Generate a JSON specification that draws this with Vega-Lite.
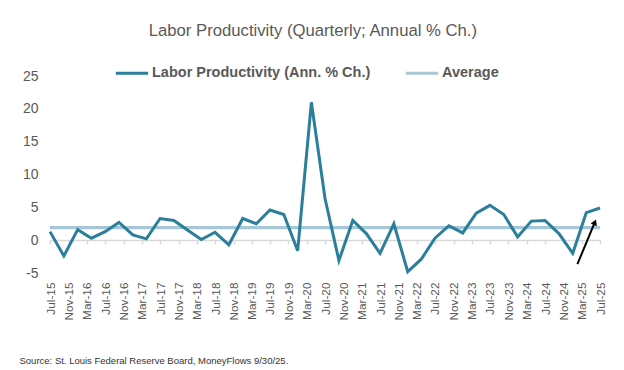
{
  "$schema": "https://vega.github.io/schema/vega-lite/v6.json",
  "width": 550,
  "height": 197,
  "autosize": {"type": "none"},
  "padding": {"left": 50, "top": 76, "right": 24, "bottom": 97},
  "background": "white",
  "config": {
    "font": "Liberation Sans",
    "view": {"stroke": null},
    "legend": {
      "orient": "none",
      "legendX": 64,
      "legendY": -21,
      "direction": "horizontal",
      "symbolType": "stroke",
      "symbolStrokeWidth": 3,
      "symbolSize": 1050,
      "labelFontSize": 14.5,
      "labelFontWeight": "bold",
      "labelColor": "#595959",
      "labelLimit": 400,
      "columnPadding": 28,
      "labelOffset": 2,
      "title": null
    }
  },
  "title": {
    "text": "Labor Productivity (Quarterly; Annual % Ch.)",
    "fontSize": 16.7,
    "fontWeight": "normal",
    "color": "#595959",
    "anchor": "middle",
    "frame": "bounds",
    "offset": 15
  },
  "datasets": {
    "prod": [
      {"date": "2015-07-01", "value": 1.3, "series": "Labor Productivity (Ann. % Ch.)"},
      {"date": "2015-10-01", "value": -2.4, "series": "Labor Productivity (Ann. % Ch.)"},
      {"date": "2016-01-01", "value": 1.6, "series": "Labor Productivity (Ann. % Ch.)"},
      {"date": "2016-04-01", "value": 0.3, "series": "Labor Productivity (Ann. % Ch.)"},
      {"date": "2016-07-01", "value": 1.3, "series": "Labor Productivity (Ann. % Ch.)"},
      {"date": "2016-10-01", "value": 2.7, "series": "Labor Productivity (Ann. % Ch.)"},
      {"date": "2017-01-01", "value": 0.8, "series": "Labor Productivity (Ann. % Ch.)"},
      {"date": "2017-04-01", "value": 0.2, "series": "Labor Productivity (Ann. % Ch.)"},
      {"date": "2017-07-01", "value": 3.3, "series": "Labor Productivity (Ann. % Ch.)"},
      {"date": "2017-10-01", "value": 3.0, "series": "Labor Productivity (Ann. % Ch.)"},
      {"date": "2018-01-01", "value": 1.5, "series": "Labor Productivity (Ann. % Ch.)"},
      {"date": "2018-04-01", "value": 0.1, "series": "Labor Productivity (Ann. % Ch.)"},
      {"date": "2018-07-01", "value": 1.2, "series": "Labor Productivity (Ann. % Ch.)"},
      {"date": "2018-10-01", "value": -0.7, "series": "Labor Productivity (Ann. % Ch.)"},
      {"date": "2019-01-01", "value": 3.3, "series": "Labor Productivity (Ann. % Ch.)"},
      {"date": "2019-04-01", "value": 2.5, "series": "Labor Productivity (Ann. % Ch.)"},
      {"date": "2019-07-01", "value": 4.6, "series": "Labor Productivity (Ann. % Ch.)"},
      {"date": "2019-10-01", "value": 3.9, "series": "Labor Productivity (Ann. % Ch.)"},
      {"date": "2020-01-01", "value": -1.6, "series": "Labor Productivity (Ann. % Ch.)"},
      {"date": "2020-04-01", "value": 21.0, "series": "Labor Productivity (Ann. % Ch.)"},
      {"date": "2020-07-01", "value": 6.3, "series": "Labor Productivity (Ann. % Ch.)"},
      {"date": "2020-10-01", "value": -3.1, "series": "Labor Productivity (Ann. % Ch.)"},
      {"date": "2021-01-01", "value": 3.0, "series": "Labor Productivity (Ann. % Ch.)"},
      {"date": "2021-04-01", "value": 1.0, "series": "Labor Productivity (Ann. % Ch.)"},
      {"date": "2021-07-01", "value": -2.0, "series": "Labor Productivity (Ann. % Ch.)"},
      {"date": "2021-10-01", "value": 2.5, "series": "Labor Productivity (Ann. % Ch.)"},
      {"date": "2022-01-01", "value": -4.8, "series": "Labor Productivity (Ann. % Ch.)"},
      {"date": "2022-04-01", "value": -2.9, "series": "Labor Productivity (Ann. % Ch.)"},
      {"date": "2022-07-01", "value": 0.3, "series": "Labor Productivity (Ann. % Ch.)"},
      {"date": "2022-10-01", "value": 2.2, "series": "Labor Productivity (Ann. % Ch.)"},
      {"date": "2023-01-01", "value": 1.1, "series": "Labor Productivity (Ann. % Ch.)"},
      {"date": "2023-04-01", "value": 4.1, "series": "Labor Productivity (Ann. % Ch.)"},
      {"date": "2023-07-01", "value": 5.3, "series": "Labor Productivity (Ann. % Ch.)"},
      {"date": "2023-10-01", "value": 3.9, "series": "Labor Productivity (Ann. % Ch.)"},
      {"date": "2024-01-01", "value": 0.5, "series": "Labor Productivity (Ann. % Ch.)"},
      {"date": "2024-04-01", "value": 2.9, "series": "Labor Productivity (Ann. % Ch.)"},
      {"date": "2024-07-01", "value": 3.0, "series": "Labor Productivity (Ann. % Ch.)"},
      {"date": "2024-10-01", "value": 1.0, "series": "Labor Productivity (Ann. % Ch.)"},
      {"date": "2025-01-01", "value": -2.0, "series": "Labor Productivity (Ann. % Ch.)"},
      {"date": "2025-04-01", "value": 4.2, "series": "Labor Productivity (Ann. % Ch.)"},
      {"date": "2025-07-01", "value": 4.9, "series": "Labor Productivity (Ann. % Ch.)"}
    ],
    "avg": [
      {"date": "2015-07-01", "value": 1.9, "series": "Average"},
      {"date": "2025-07-01", "value": 1.9, "series": "Average"}
    ],
    "arrow": [
      {"date": "2025-02-01", "value": -3.65, "date2": "2025-05-28", "value2": 2.74}
    ]
  },
  "layer": [
    {
      "data": {"name": "avg"},
      "mark": {"type": "line", "strokeWidth": 3.3},
      "encoding": {
        "x": {
          "field": "date",
          "type": "temporal",
          "scale": {"type": "utc", "domain": [{"year": 2015, "month": 7, "date": 1, "utc": true}, {"year": 2025, "month": 7, "date": 1, "utc": true}]},
          "axis": {
            "values": [
              {"year": 2015, "month": 7, "date": 1, "utc": true},
              {"year": 2015, "month": 11, "date": 1, "utc": true},
              {"year": 2016, "month": 3, "date": 1, "utc": true},
              {"year": 2016, "month": 7, "date": 1, "utc": true},
              {"year": 2016, "month": 11, "date": 1, "utc": true},
              {"year": 2017, "month": 3, "date": 1, "utc": true},
              {"year": 2017, "month": 7, "date": 1, "utc": true},
              {"year": 2017, "month": 11, "date": 1, "utc": true},
              {"year": 2018, "month": 3, "date": 1, "utc": true},
              {"year": 2018, "month": 7, "date": 1, "utc": true},
              {"year": 2018, "month": 11, "date": 1, "utc": true},
              {"year": 2019, "month": 3, "date": 1, "utc": true},
              {"year": 2019, "month": 7, "date": 1, "utc": true},
              {"year": 2019, "month": 11, "date": 1, "utc": true},
              {"year": 2020, "month": 3, "date": 1, "utc": true},
              {"year": 2020, "month": 7, "date": 1, "utc": true},
              {"year": 2020, "month": 11, "date": 1, "utc": true},
              {"year": 2021, "month": 3, "date": 1, "utc": true},
              {"year": 2021, "month": 7, "date": 1, "utc": true},
              {"year": 2021, "month": 11, "date": 1, "utc": true},
              {"year": 2022, "month": 3, "date": 1, "utc": true},
              {"year": 2022, "month": 7, "date": 1, "utc": true},
              {"year": 2022, "month": 11, "date": 1, "utc": true},
              {"year": 2023, "month": 3, "date": 1, "utc": true},
              {"year": 2023, "month": 7, "date": 1, "utc": true},
              {"year": 2023, "month": 11, "date": 1, "utc": true},
              {"year": 2024, "month": 3, "date": 1, "utc": true},
              {"year": 2024, "month": 7, "date": 1, "utc": true},
              {"year": 2024, "month": 11, "date": 1, "utc": true},
              {"year": 2025, "month": 3, "date": 1, "utc": true},
              {"year": 2025, "month": 7, "date": 1, "utc": true}
            ],
            "tickCount": 200,
            "format": "%b-%y",
            "labelAngle": -90,
            "labelFontSize": 11.8,
            "labelColor": "#595959",
            "labelOverlap": false,
            "labelFlush": false,
            "labelBound": false,
            "grid": false,
            "offset": -33,
            "domainColor": "#d9d9d9",
            "domainWidth": 1.5,
            "tickColor": "#d9d9d9",
            "tickWidth": 1.5,
            "tickSize": 4,
            "labelPadding": 38,
            "title": "Source: St. Louis Federal Reserve Board, MoneyFlows 9/30/25.",
            "titleFontSize": 9.5,
            "titleFontWeight": "normal",
            "titleColor": "#333333",
            "titleAnchor": "start",
            "titleAlign": "left",
            "titleBaseline": "alphabetic",
            "titleX": -31,
            "titleY": 123
          }
        },
        "y": {
          "field": "value",
          "type": "quantitative",
          "scale": {"domain": [-5, 25], "nice": false, "zero": false},
          "axis": {
            "values": [-5, 0, 5, 10, 15, 20, 25],
            "tickCount": 100,
            "labelExpr": "datum.value + ''",
            "labelFontSize": 14,
            "labelColor": "#595959",
            "labelPadding": 12,
            "labelOverlap": false,
            "domain": false,
            "ticks": false,
            "grid": false,
            "title": null
          }
        },
        "color": {
          "field": "series",
          "type": "nominal",
          "scale": {"domain": ["Labor Productivity (Ann. % Ch.)", "Average"], "range": ["#2b7f9b", "#a6c8d6"]},
          "sort": null
        }
      }
    },
    {
      "data": {"name": "prod"},
      "mark": {"type": "line", "strokeWidth": 3},
      "encoding": {
        "x": {"field": "date", "type": "temporal"},
        "y": {"field": "value", "type": "quantitative"},
        "color": {"field": "series", "type": "nominal"}
      }
    },
    {
      "data": {"name": "arrow"},
      "mark": {"type": "rule", "color": "black", "strokeWidth": 2},
      "encoding": {
        "x": {"field": "date", "type": "temporal"},
        "y": {"field": "value", "type": "quantitative"},
        "x2": {"field": "date2"},
        "y2": {"field": "value2"}
      }
    },
    {
      "data": {"name": "arrow"},
      "mark": {"type": "point", "shape": "triangle-up", "filled": true, "color": "black", "size": 45, "angle": 23, "opacity": 1},
      "encoding": {
        "x": {"field": "date2", "type": "temporal"},
        "y": {"field": "value2", "type": "quantitative"}
      }
    }
  ]
}
